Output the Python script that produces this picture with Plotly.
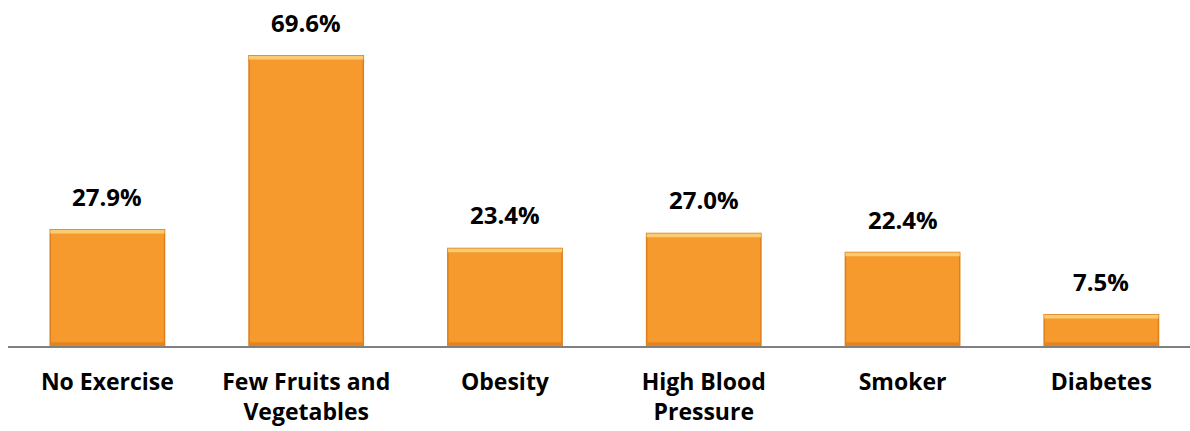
import plotly.graph_objects as go

categories = ["No Exercise", "Few Fruits and<br>Vegetables", "Obesity",
              "High Blood<br>Pressure", "Smoker", "Diabetes"]
values = [27.9, 69.6, 23.4, 27.0, 22.4, 7.5]
value_labels = [f"{v:.1f}%" for v in values]

BAR_FILL = "#F79A2E"
BAR_EDGE = "#DC7E1A"
BAR_TOP = "#FBCB72"
BAR_BOTTOM = "#E5831F"
FONT = "Open Sans"

fig = go.Figure()

# main bars
fig.add_trace(go.Bar(
    x=categories, y=values,
    marker=dict(color=BAR_FILL, line=dict(color=BAR_EDGE, width=1.5)),
    hoverinfo="skip",
))

# light bevel along the top and darker band along the bottom
cap = 0.9
fig.add_trace(go.Bar(
    x=categories, y=[cap] * len(values), base=[v - cap for v in values],
    marker=dict(color=BAR_TOP, line=dict(width=0)),
    hoverinfo="skip",
))
fig.add_trace(go.Bar(
    x=categories, y=[cap] * len(values),
    marker=dict(color=BAR_BOTTOM, line=dict(width=0)),
    hoverinfo="skip",
))

# value labels above the bars
for cat, v, lab in zip(categories, values, value_labels):
    fig.add_annotation(
        x=cat, y=v, text=f"<b>{lab}</b>", showarrow=False,
        yanchor="bottom", yshift=15,
        font=dict(family=FONT, size=24, color="#000000"),
    )

fig.update_layout(
    width=1190, height=431,
    margin=dict(l=8, r=0, t=0, b=85),
    paper_bgcolor="white", plot_bgcolor="white",
    barmode="overlay", bargap=0.425,
    showlegend=False,
    xaxis=dict(
        range=[-0.5, 5.446], showgrid=False, zeroline=False,
        showline=True, linecolor="#808080", linewidth=2,
        ticks="", ticklabelstandoff=14,
        tickfont=dict(family=FONT, size=23, color="#000000", weight="bold"),
    ),
    yaxis=dict(range=[0, 83], visible=False, fixedrange=True),
    font=dict(family=FONT),
)

fig.write_html("out.html")
